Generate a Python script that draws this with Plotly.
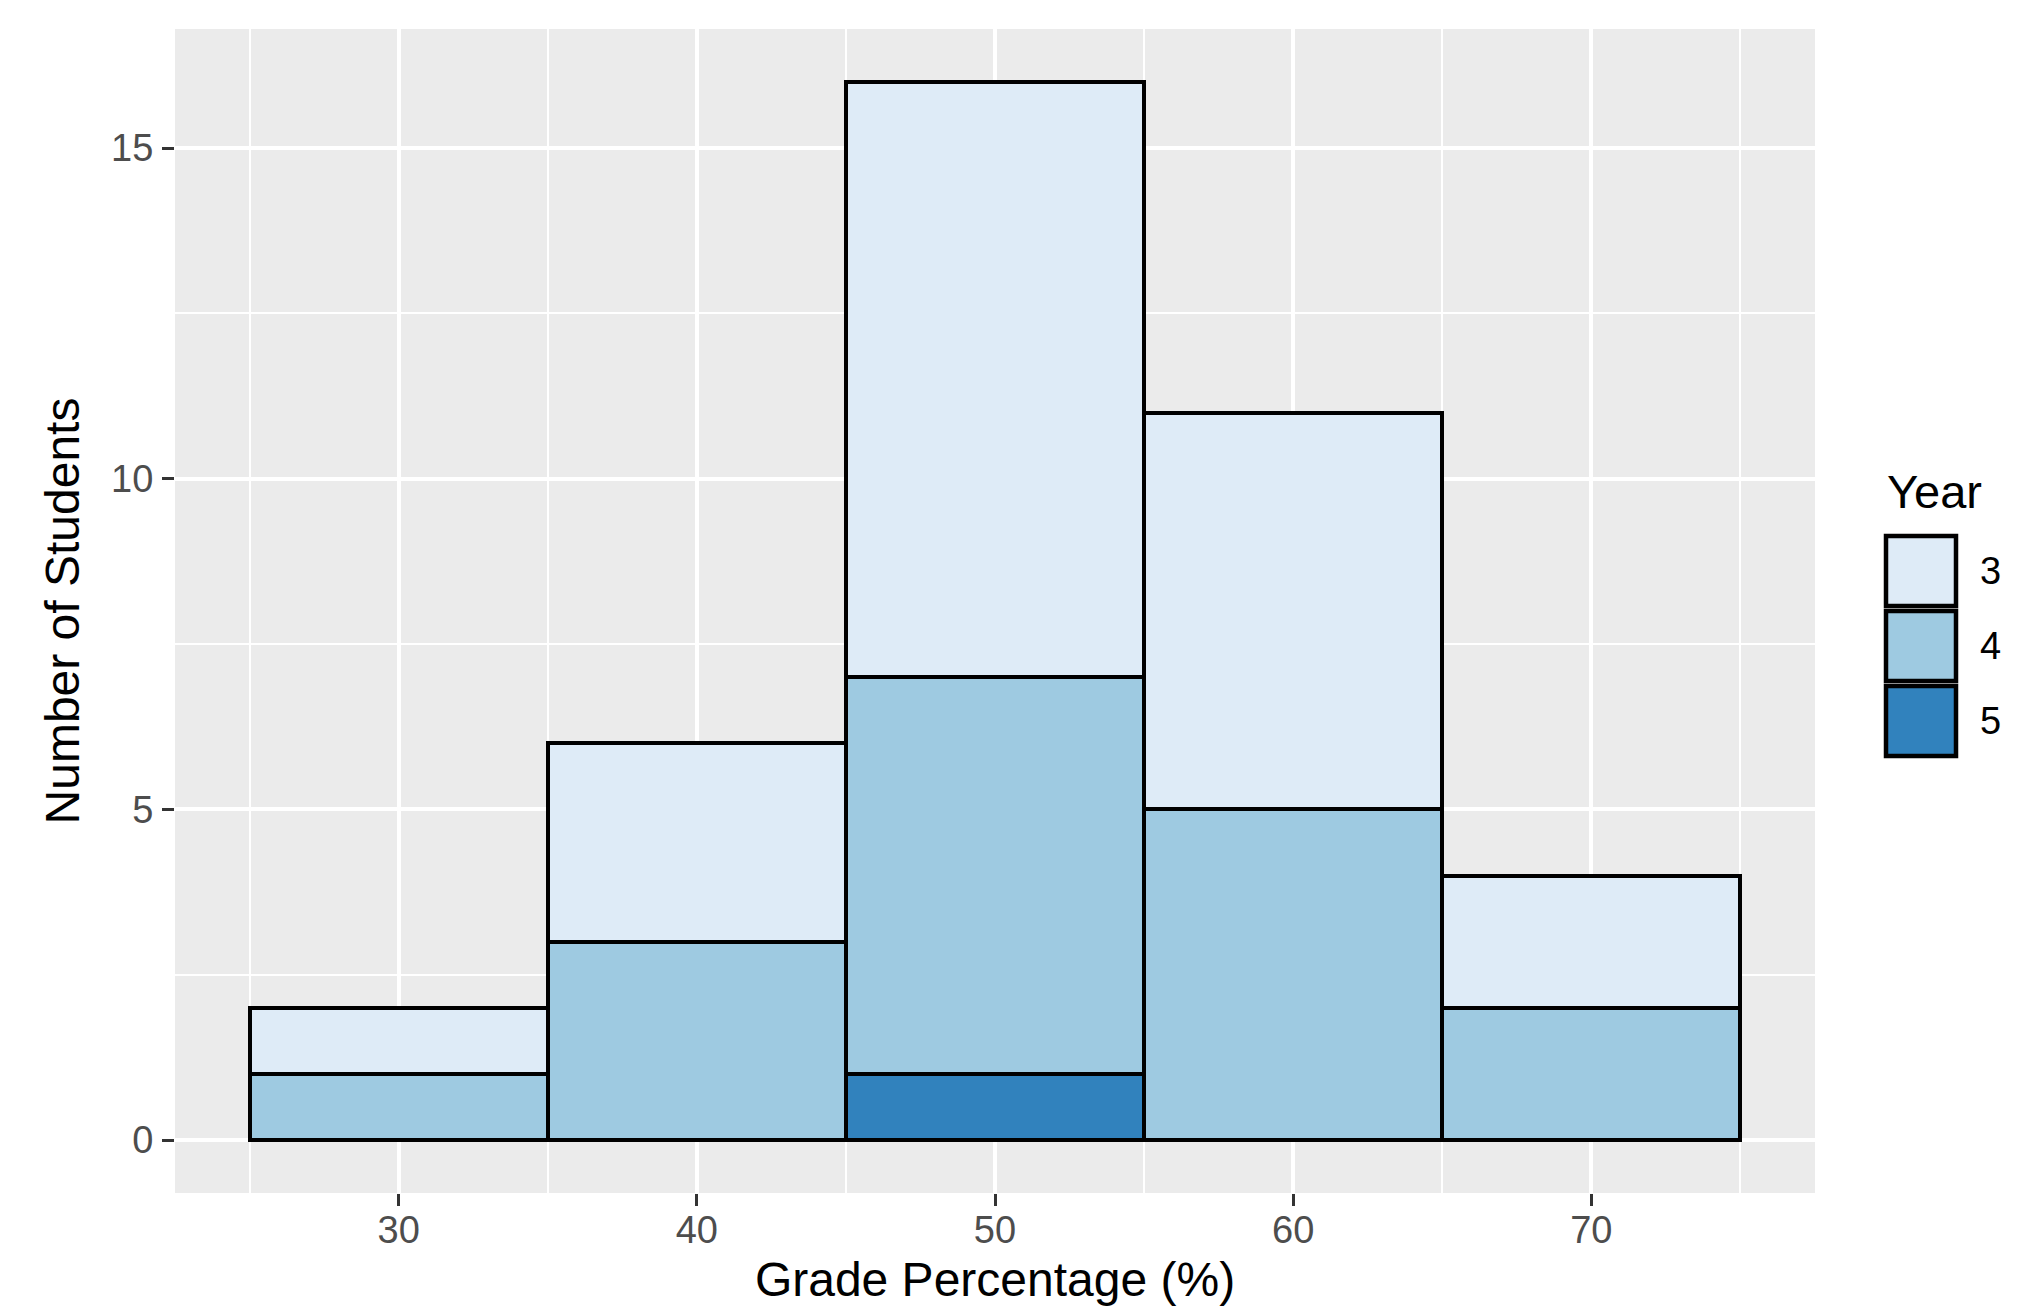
import plotly.graph_objects as go

# ---- data ----
bin_centers = [30, 40, 50, 60, 70]
bin_width = 10
years = ["3", "4", "5"]
year3 = [1, 3, 9, 6, 2]
year4 = [1, 3, 6, 5, 2]
year5 = [0, 0, 1, 0, 0]
colors = {"3": "#DEEBF7", "4": "#9ECAE1", "5": "#3182BD"}
x_ticks = [30, 40, 50, 60, 70]
y_ticks = [0, 5, 10, 15]

W, H = 2040, 1307
L, R, T, B = 167, 1807, 21, 1185  # panel in pixels

fig = go.Figure()
series = {"5": year5, "4": year4, "3": year3}
for yr in ["5", "4", "3"]:
    fig.add_trace(go.Bar(
        x=bin_centers, y=series[yr], width=bin_width, name=yr,
        marker=dict(color=colors[yr], line=dict(color="black", width=4.5)),
        showlegend=False,
    ))

font = "Liberation Sans, Arial, sans-serif"
fig.update_layout(
    width=W, height=H,
    margin=dict(l=L, r=W - R, t=T, b=H - B, autoexpand=False),
    barmode="stack", bargap=0,
    plot_bgcolor="#EBEBEB", paper_bgcolor="white",
    font=dict(family=font, color="black"),
)
fig.update_xaxes(
    range=[22.5, 77.5], tickvals=x_ticks, ticktext=[str(v) for v in x_ticks],
    showgrid=True, gridcolor="white", gridwidth=4, zeroline=False,
    ticks="outside", ticklen=12, tickwidth=3, tickcolor="#333333",
    tickfont=dict(size=38, color="#4D4D4D", family=font),
    ticklabelstandoff=-9,
    minor=dict(tickvals=[25, 35, 45, 55, 65, 75], showgrid=True, gridcolor="white", gridwidth=2, ticks=""),
    title=dict(text="Grade Percentage (%)", font=dict(size=48, color="black", family=font), standoff=12),
    automargin=False, showline=False,
)
fig.update_yaxes(
    range=[-0.8, 16.8], tickvals=y_ticks, ticktext=[str(v) for v in y_ticks],
    showgrid=True, gridcolor="white", gridwidth=4, zeroline=False,
    ticks="outside", ticklen=12, tickwidth=3, tickcolor="#333333",
    tickfont=dict(size=38, color="#4D4D4D", family=font),
    ticklabelstandoff=1,
    minor=dict(tickvals=[2.5, 7.5, 12.5], showgrid=True, gridcolor="white", gridwidth=2, ticks=""),
    title=dict(text="Number of Students", font=dict(size=48, color="black", family=font), standoff=16),
    automargin=False, showline=False,
)

# ---- manual legend (ggplot-style keys) ----
def px(xp):
    return (xp - L) / (R - L)

def py(yp):
    return (B - yp) / (B - T)

fig.add_annotation(text="Year", x=px(1877), y=py(483), xref="paper", yref="paper",
                   xanchor="left", yanchor="middle", showarrow=False,
                   font=dict(size=47, color="black", family=font))
key_tops = [528, 603, 678]
key_h = 70
for yr, top in zip(years, key_tops):
    fig.add_shape(type="rect", xref="paper", yref="paper",
                  x0=px(1878), x1=px(1948), y0=py(top + key_h), y1=py(top),
                  fillcolor=colors[yr], line=dict(color="black", width=4.5))
    fig.add_annotation(text=yr, x=px(1970), y=py(top + key_h / 2), xref="paper", yref="paper",
                       xanchor="left", yanchor="middle", showarrow=False,
                       font=dict(size=38, color="black", family=font))

fig.write_html("out.html")
